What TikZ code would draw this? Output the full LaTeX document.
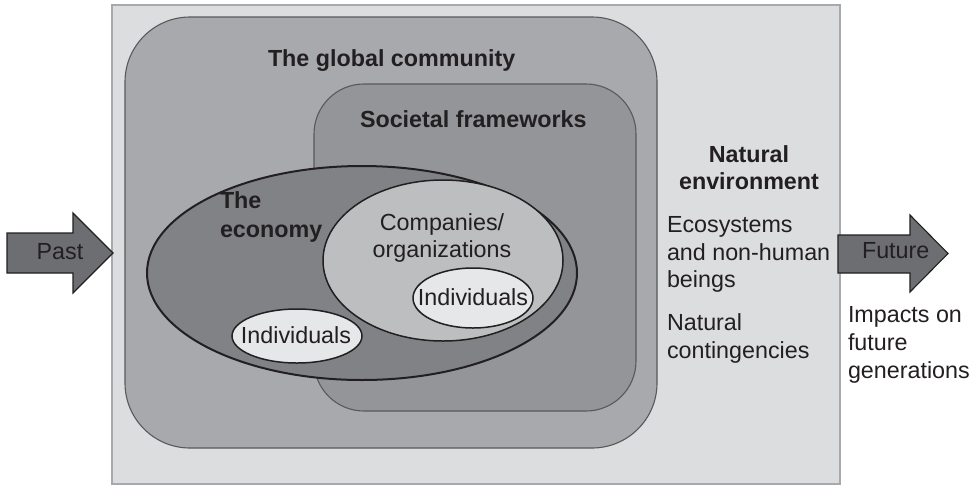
\documentclass[tikz,border=0pt]{standalone}
\usepackage{fontspec}
\setmainfont{Liberation Sans}
\definecolor{ink}{HTML}{231F20}
\definecolor{envfill}{HTML}{DCDDDE}
\definecolor{envline}{HTML}{A7A9AC}
\definecolor{globfill}{HTML}{A7A9AC}
\definecolor{socfill}{HTML}{939598}
\definecolor{ecofill}{HTML}{808285}
\definecolor{compfill}{HTML}{BCBEC0}
\definecolor{indfill}{HTML}{E6E7E8}
\definecolor{arrowfill}{HTML}{6D6E71}
\definecolor{frameline}{HTML}{58595B}
\newcommand{\txtsize}{\fontsize{23.3}{28}\selectfont}
\begin{document}
\begin{tikzpicture}[x=1pt,y=-1pt,
  lbl/.style={inner sep=0pt,outer sep=0pt,text=ink,font=\txtsize},
  blbl/.style={lbl,font=\txtsize\bfseries},
  framebox/.style={draw=frameline,line width=1.1pt},
  ovalline/.style={draw=ink,line width=1.5pt},
  timearrow/.style={draw=ink,line width=1.1pt,fill=arrowfill,line join=miter}]
\useasboundingbox (0,0) rectangle (973,485);

% natural environment
\draw[fill=envfill,draw=envline,line width=1.5pt] (112,5) rectangle (840,484);
% global community
\draw[framebox,fill=globfill,rounded corners=65pt] (125,17) rectangle (657,448);
% societal frameworks
\draw[framebox,fill=socfill,rounded corners=50pt] (314,84) rectangle (636,411);
% the economy
\draw[ovalline,line width=2pt,fill=ecofill] (362,273) ellipse [x radius=215pt,y radius=107pt];
% companies / organizations
\draw[ovalline,fill=compfill] (443,260.5) ellipse [x radius=120pt,y radius=80.5pt];
% individuals
\draw[ovalline,fill=indfill] (473,298) ellipse [x radius=60pt,y radius=30pt];
\draw[ovalline,fill=indfill] (297,336) ellipse [x radius=65pt,y radius=27pt];

% time arrows
\draw[timearrow] (7,233) -- (73,233) -- (73,213) -- (113,253) -- (73,293) -- (73,273) -- (7,273) -- cycle;
\draw[timearrow] (838,235) -- (910,235) -- (910,215) -- (948,253.5) -- (910,292) -- (910,273) -- (838,273) -- cycle;

% labels
\node[blbl,anchor=base west] (glob) at (268,66) {The global community};
\node[blbl,anchor=base west] (soc) at (360,127) {Societal frameworks};
\node[blbl,anchor=base west] (eco1) at (220,208) {The};
\node[blbl,anchor=base west] (eco2) at (220,237) {economy};
\node[lbl,anchor=base] (comp1) at (442,230) {Companies/};
\node[lbl,anchor=base] (comp2) at (442,257) {organizations};
\node[lbl,anchor=base] (indA) at (473,305) {Individuals};
\node[lbl,anchor=base] (indB) at (296,343) {Individuals};

\node[blbl,anchor=base] (nat1) at (749,162) {Natural};
\node[blbl,anchor=base] (nat2) at (749,189) {environment};
\node[lbl,anchor=base west] (ecoA) at (667,232) {Ecosystems};
\node[lbl,anchor=base west] (ecoB) at (667,260) {and non-human};
\node[lbl,anchor=base west] (ecoC) at (667,287) {beings};
\node[lbl,anchor=base west] (contA) at (667,330) {Natural};
\node[lbl,anchor=base west] (contB) at (667,358) {contingencies};

\node[lbl,anchor=base] (past) at (60,259) {Past};
\node[lbl,anchor=base west] (fut) at (862,258) {Future};
\node[lbl,anchor=base west] (impA) at (848,322) {Impacts on};
\node[lbl,anchor=base west] (impB) at (848,350) {future};
\node[lbl,anchor=base west] (impC) at (848,378) {generations};
\end{tikzpicture}
\end{document}
